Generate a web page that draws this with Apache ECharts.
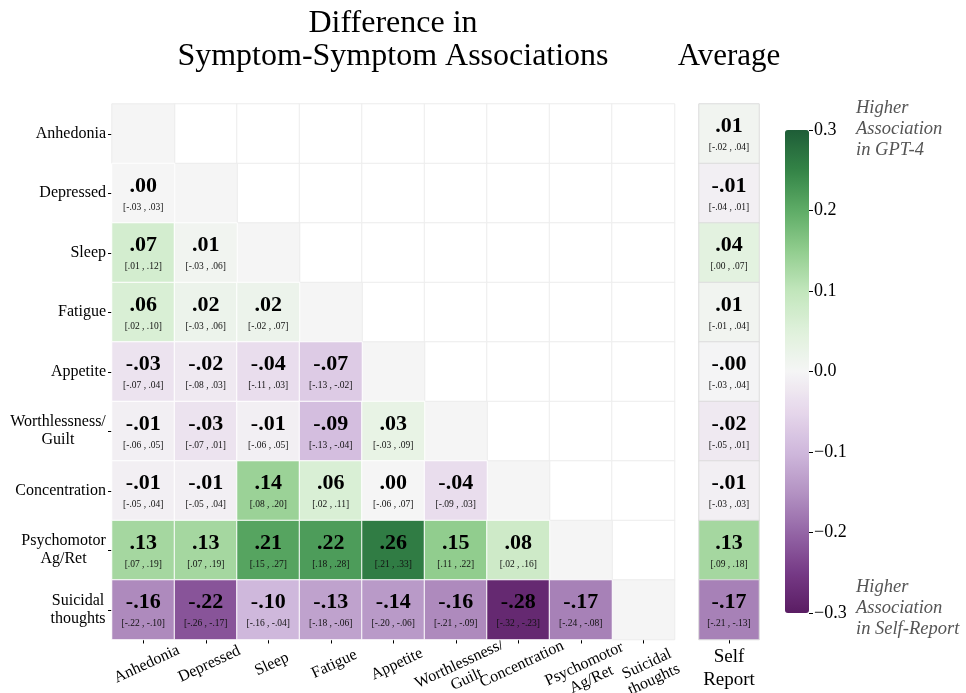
<!DOCTYPE html>
<html>
<head>
<meta charset="utf-8">
<script src="https://cdn.jsdelivr.net/npm/echarts@6/dist/echarts.min.js"></script>
<style>html,body{margin:0;padding:0;background:#fff;}#c{width:966px;height:693px;}</style>
</head>
<body>
<div id="c"></div>
<script>
const symptoms = ['Anhedonia','Depressed','Sleep','Fatigue','Appetite','Worthlessness/\nGuilt','Concentration','Psychomotor\nAg/Ret','Suicidal\nthoughts'];

// lower-triangle differences, row i has i entries (columns 0..i-1)
const diffValues = [
  [],
  [0.00],
  [0.07, 0.01],
  [0.06, 0.02, 0.02],
  [-0.03, -0.02, -0.04, -0.07],
  [-0.01, -0.03, -0.01, -0.09, 0.03],
  [-0.01, -0.01, 0.14, 0.06, 0.00, -0.04],
  [0.13, 0.13, 0.21, 0.22, 0.26, 0.15, 0.08],
  [-0.16, -0.22, -0.10, -0.13, -0.14, -0.16, -0.28, -0.17]
];
const diffLow = [
  [],
  [-0.03],
  [0.01, -0.03],
  [0.02, -0.03, -0.02],
  [-0.07, -0.08, -0.11, -0.13],
  [-0.06, -0.07, -0.06, -0.13, -0.03],
  [-0.05, -0.05, 0.08, 0.02, -0.06, -0.09],
  [0.07, 0.07, 0.15, 0.18, 0.21, 0.11, 0.02],
  [-0.22, -0.26, -0.16, -0.18, -0.20, -0.21, -0.32, -0.24]
];
const diffHigh = [
  [],
  [0.03],
  [0.12, 0.06],
  [0.10, 0.06, 0.07],
  [0.04, 0.03, 0.03, -0.02],
  [0.05, 0.01, 0.05, -0.04, 0.09],
  [0.04, 0.04, 0.20, 0.11, 0.07, 0.03],
  [0.19, 0.19, 0.27, 0.28, 0.33, 0.22, 0.16],
  [-0.10, -0.17, -0.04, -0.06, -0.06, -0.09, -0.23, -0.08]
];
const avgValues = [0.01, -0.01, 0.04, 0.01, -0.002, -0.02, -0.01, 0.13, -0.17];
const avgLow    = [-0.02, -0.04, 0.00, -0.01, -0.03, -0.05, -0.03, 0.09, -0.21];
const avgHigh   = [0.04, 0.01, 0.07, 0.04, 0.04, 0.01, 0.03, 0.18, -0.13];
const colorTicks = [-0.3, -0.2, -0.1, 0.0, 0.1, 0.2, 0.3];
const avgCategory = ['Self\nReport'];

const cmap = ['#5a1d63','#763a86','#9466a6','#b493c3','#cfb8dc','#e6d7eb','#f5f5f5',
              '#dff1db','#c2e6bc','#91cd8e','#5eac66','#348447','#1e5d37'];

function fmt(v){ return (v < 0 ? '-' : '') + Math.abs(v).toFixed(2).replace(/^0/, ''); }
function fmtCI(a,b){ return '[' + fmt(a) + ' , ' + fmt(b) + ']'; }

const lowerData = [], diagData = [], upperData = [];
for (let i = 0; i < symptoms.length; i++) {
  for (let j = 0; j < symptoms.length; j++) {
    if (j < i) lowerData.push({ value: [j, i, diffValues[i][j]], ci: fmtCI(diffLow[i][j], diffHigh[i][j]) });
    else if (j === i) diagData.push([j, i, 0]);
    else upperData.push([j, i, 0]);
  }
}
const avgData = avgValues.map((v, i) => ({ value: [0, i, v], ci: fmtCI(avgLow[i], avgHigh[i]) }));

const serif = '"Liberation Serif", "DejaVu Serif", serif';

// measure text to center the lines of multi-line y labels
const mctx = document.createElement('canvas').getContext('2d');
mctx.font = '16px "Liberation Serif"';
function lineBoxWidth(s) {
  return Math.ceil(Math.max(...s.split('\n').map(l => mctx.measureText(l).width)));
}
function yLabel(v) {
  const lines = v.split('\n');
  if (lines.length === 1) return v;
  const key = 'm' + lineBoxWidth(v);
  return lines.map(l => '{' + key + '|' + l + '}').join('\n');
}
const yRich = {};
symptoms.forEach(s => {
  if (s.indexOf('\n') >= 0) {
    const w = lineBoxWidth(s);
    yRich['m' + w] = { width: w, align: 'center', fontFamily: serif, fontSize: 16, lineHeight: 18, color: '#000' };
  }
});

const cellLabel = {
  show: true,
  formatter: p => '{v|' + fmt(p.data.value[2]) + '}\n{c|' + p.data.ci + '}',
  rich: {
    v: { fontFamily: serif, fontWeight: 'bold', fontSize: 22, lineHeight: 28, color: '#000' },
    c: { fontFamily: serif, fontSize: 9.5, lineHeight: 14, color: '#111' }
  }
};

const chart = echarts.init(document.getElementById('c'), null, { renderer: 'canvas' });
chart.setOption({
  animation: false,
  backgroundColor: '#fff',
  title: [
    { text: 'Difference in\nSymptom-Symptom Associations', left: 388, top: 2, textAlign: 'center',
      textStyle: { fontFamily: serif, fontWeight: 'normal', fontSize: 32, lineHeight: 33, color: '#000' } },
    { text: 'Average', left: 724, top: 35, textAlign: 'center',
      textStyle: { fontFamily: serif, fontWeight: 'normal', fontSize: 31, lineHeight: 33, color: '#000' } }
  ],
  grid: [
    { left: 112, top: 104, width: 562.5, height: 535.5, outerBoundsMode: 'none', containLabel: false },
    { left: 699, top: 104, width: 60, height: 535.5, outerBoundsMode: 'none', containLabel: false },
    { left: 809, top: 130, width: 1, height: 483, outerBoundsMode: 'none', containLabel: false }
  ],
  xAxis: [
    { type: 'category', gridIndex: 0, data: symptoms, position: 'bottom',
      axisLine: { show: false }, splitLine: { show: false },
      axisTick: { show: true, alignWithLabel: true, length: 4, lineStyle: { color: '#000' } },
      axisLabel: { rotate: 25, align: 'center', verticalAlign: 'top', margin: 17, interval: 0,
        fontFamily: serif, fontSize: 16, color: '#000', lineHeight: 17 } },
    { type: 'category', gridIndex: 1, data: avgCategory, position: 'bottom',
      axisLine: { show: false }, splitLine: { show: false },
      axisTick: { show: true, alignWithLabel: true, length: 4, lineStyle: { color: '#000' } },
      axisLabel: { margin: 6, fontFamily: serif, fontSize: 19, lineHeight: 23, color: '#000' } },
    { type: 'value', gridIndex: 2, show: false, min: 0, max: 1 }
  ],
  yAxis: [
    { type: 'category', gridIndex: 0, data: symptoms, inverse: true,
      axisLine: { show: false }, splitLine: { show: false },
      axisTick: { show: true, alignWithLabel: true, length: 4, lineStyle: { color: '#000' } },
      axisLabel: { margin: 6, interval: 0, fontFamily: serif, fontSize: 16, lineHeight: 18, color: '#000',
        formatter: yLabel, rich: yRich } },
    { type: 'category', gridIndex: 1, data: symptoms, inverse: true, show: false },
    { type: 'value', gridIndex: 2, position: 'right', min: -0.3, max: 0.3, interval: 0.1,
      axisLine: { show: false }, splitLine: { show: false },
      axisTick: { show: true, length: 4, lineStyle: { color: '#000' } },
      axisLabel: { margin: 4, fontFamily: serif, fontSize: 18, color: '#000',
        formatter: v => (v < -1e-9 ? '\u2212' : '') + Math.abs(v).toFixed(1) } }
  ],
  visualMap: {
    type: 'continuous', min: -0.3, max: 0.3, seriesIndex: [2, 3], dimension: 2,
    left: 785, top: 130, itemWidth: 24, itemHeight: 483, padding: 0,
    calculable: false, realtime: false, hoverLink: false, text: null, showLabel: false,
    inRange: { color: cmap }
  },
  graphic: [
    { type: 'text', left: 856, top: 98, style: { text: 'Higher\nAssociation\nin GPT-4',
      font: 'italic 18.5px ' + serif, lineHeight: 21, fill: '#555' } },
    { type: 'text', left: 856, top: 577, style: { text: 'Higher\nAssociation\nin Self-Report',
      font: 'italic 18.5px ' + serif, lineHeight: 21, fill: '#555' } }
  ],
  series: [
    { type: 'heatmap', xAxisIndex: 0, yAxisIndex: 0, data: upperData, silent: true,
      itemStyle: { color: '#ffffff', borderColor: '#ececec', borderWidth: 1 } },
    { type: 'heatmap', xAxisIndex: 0, yAxisIndex: 0, data: diagData, silent: true,
      itemStyle: { color: '#f5f5f5', borderColor: '#ececec', borderWidth: 1 } },
    { type: 'heatmap', xAxisIndex: 0, yAxisIndex: 0, data: lowerData, silent: true,
      itemStyle: { borderColor: '#ffffff', borderWidth: 1 }, label: cellLabel },
    { type: 'heatmap', xAxisIndex: 1, yAxisIndex: 1, data: avgData, silent: true,
      itemStyle: { borderColor: '#dcdcdc', borderWidth: 1 }, label: cellLabel }
  ]
});
</script>
</body>
</html>
